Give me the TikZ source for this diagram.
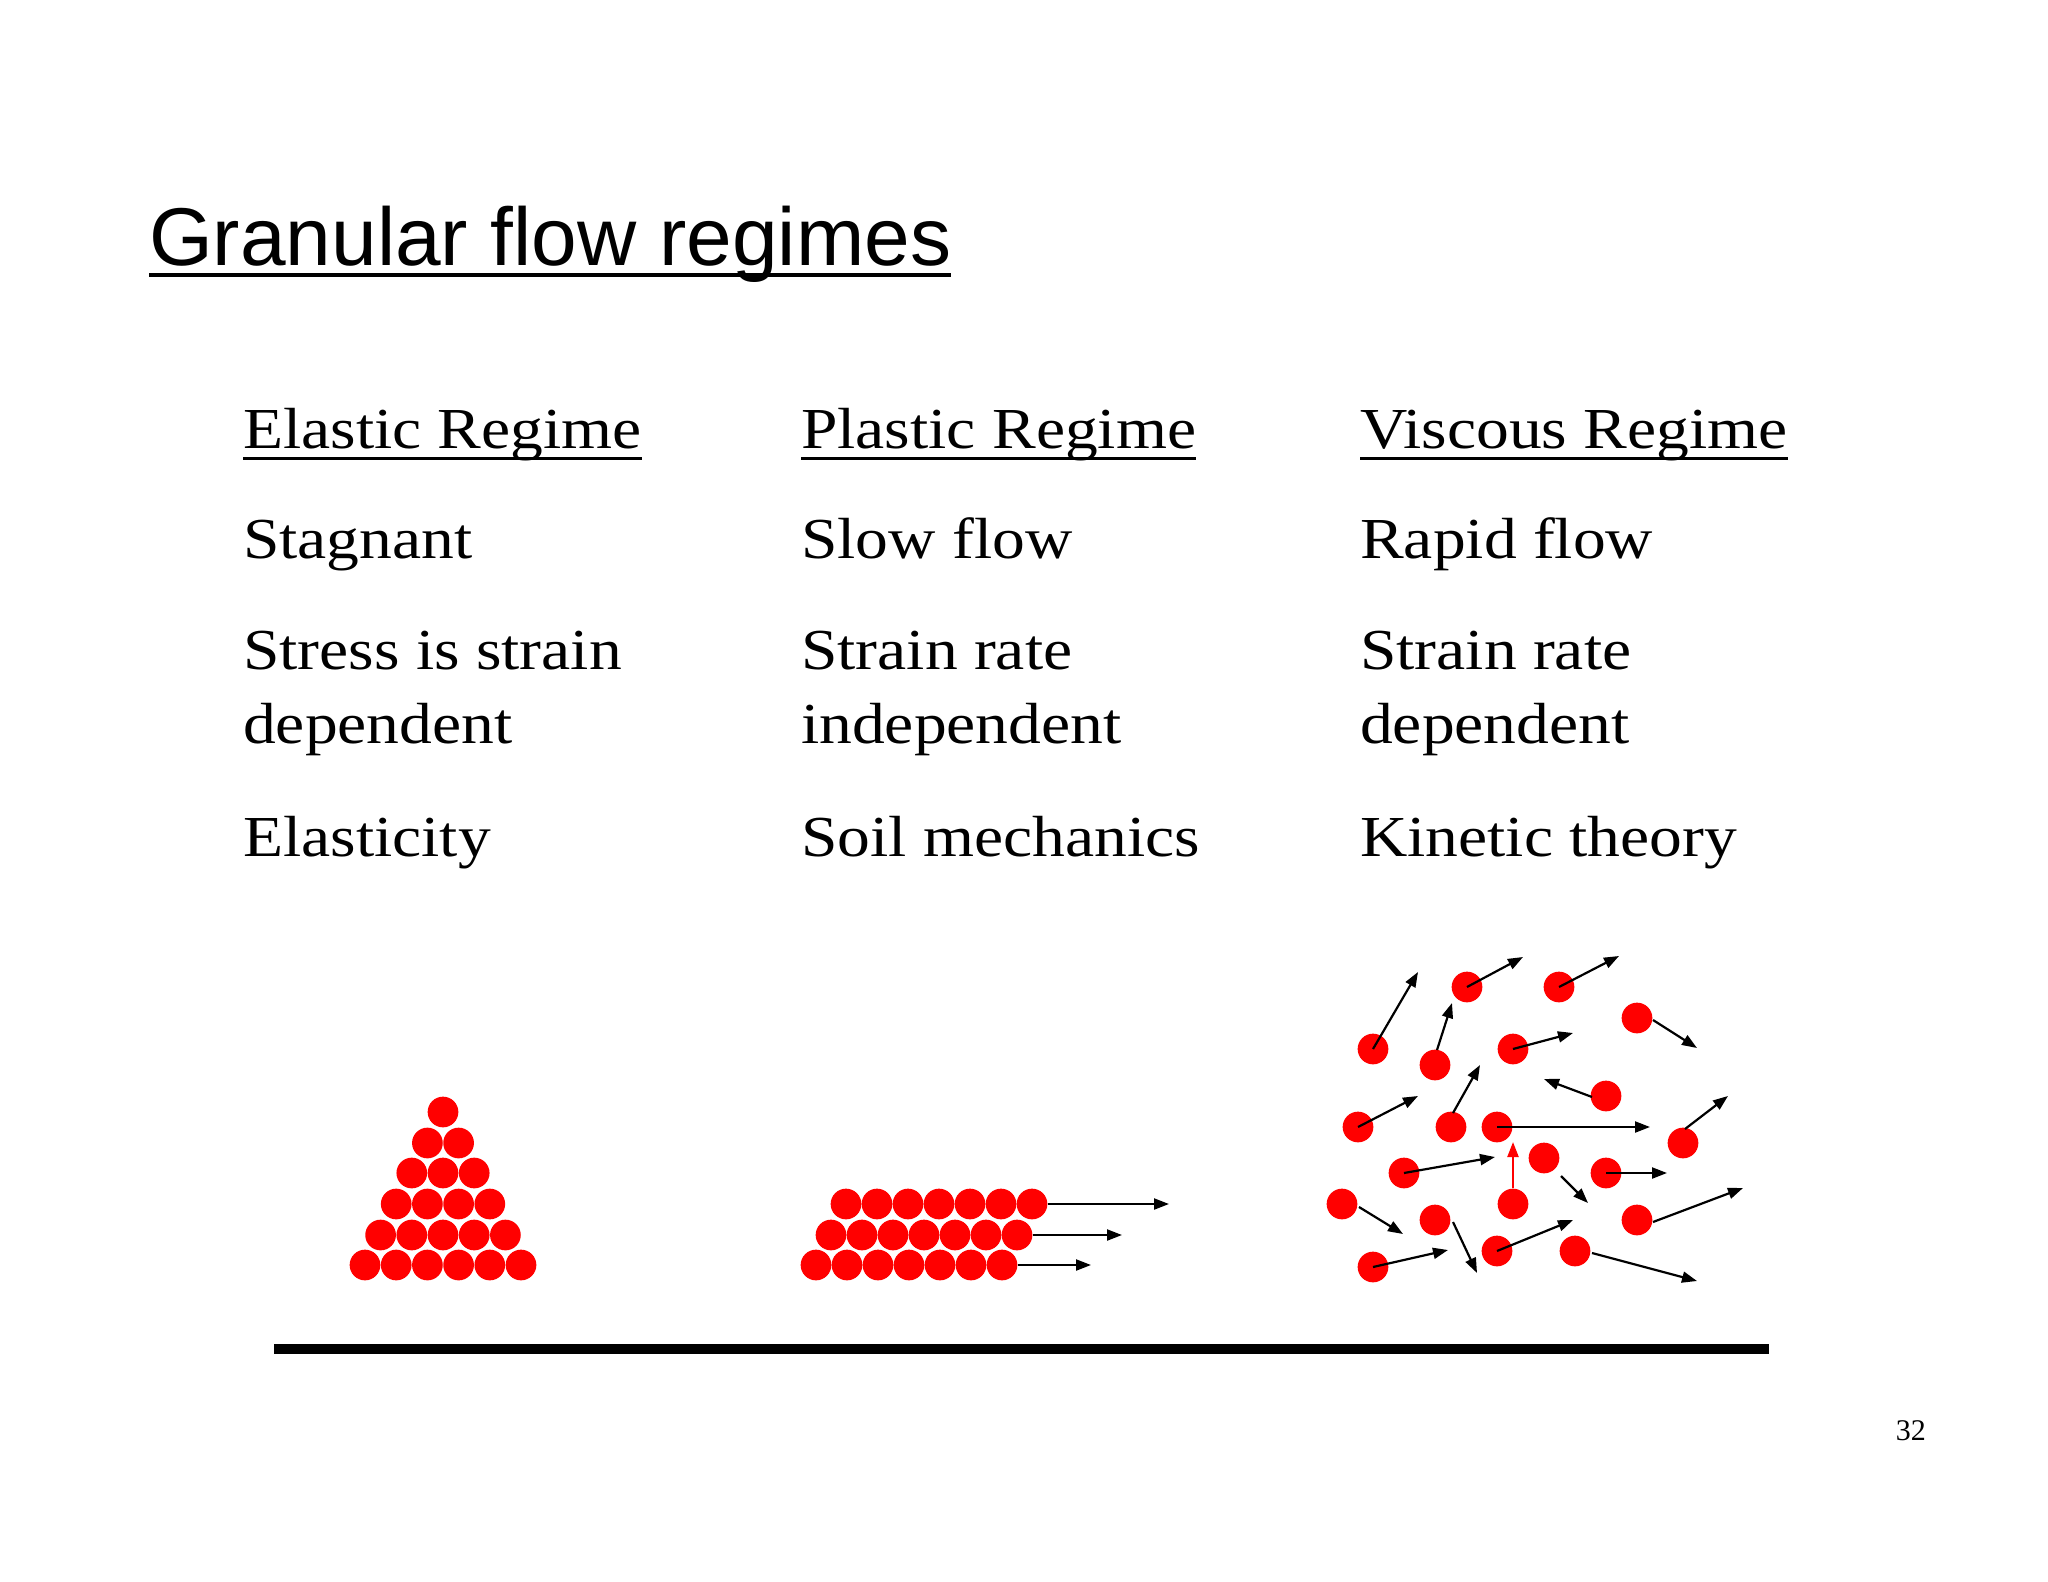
\documentclass[tikz,border=0pt]{standalone}
\usepackage{fontspec}
\setmainfont{Liberation Serif}[FakeStretch=1.13]
\newfontfamily\sansf{Liberation Sans}
\newfontfamily\plainserif{Liberation Serif}
\usetikzlibrary{arrows.meta}
\begin{document}
\begin{tikzpicture}[x=1pt,y=-1pt,
  ball/.style={circle,fill=red,inner sep=0pt,minimum size=30.7pt},
  mv/.style={line width=2.2pt,-{Triangle[length=15pt,width=11pt]}},
  txt/.style={anchor=base west,inner sep=0pt,font=\fontsize{58}{58}\selectfont},
  ul/.style={line width=3pt}]
\useasboundingbox (0,0) rectangle (2048,1582);
\node[anchor=base west,inner sep=0pt,font=\sansf\fontsize{82}{82}\selectfont] (title) at (149,265) {Granular flow regimes};
\draw[line width=4pt] ([yshift=-10pt]title.base west) -- ([yshift=-10pt]title.base east);
% headings
\node[txt] (h1) at (243,448) {Elastic Regime};
\node[txt] (h2) at (801,448) {Plastic Regime};
\node[txt] (h3) at (1360,448) {Viscous Regime};
\foreach \h in {h1,h2,h3} \draw[ul] ([yshift=-10pt]\h.base west) -- ([yshift=-10pt]\h.base east);
\node[txt] (a1) at (243,558) {Stagnant};
\node[txt] (a2) at (801,558) {Slow flow};
\node[txt] (a3) at (1360,558) {Rapid flow};
\node[txt] (b1) at (243,669) {Stress is strain};
\node[txt] (b2) at (801,669) {Strain rate};
\node[txt] (b3) at (1360,669) {Strain rate};
\node[txt] (c1) at (243,743) {dependent};
\node[txt] (c2) at (801,743) {independent};
\node[txt] (c3) at (1360,743) {dependent};
\node[txt] (d1) at (243,856) {Elasticity};
\node[txt] (d2) at (801,856) {Soil mechanics};
\node[txt] (d3) at (1360,856) {Kinetic theory};
% pile
\foreach \r/\y in {1/1112,2/1143,3/1173,4/1204,5/1235,6/1265}{
  \foreach \i in {1,...,\r}{
    \node[ball] (p\r-\i) at ({443+31.2*(\i-(\r+1)/2)},\y) {};}}
% plastic
\foreach \i in {1,...,7}{
  \node[ball] (t\i) at ({846+31*(\i-1)},1204) {};
  \node[ball] (m\i) at ({831+31*(\i-1)},1235) {};
  \node[ball] (b\i) at ({816+31*(\i-1)},1265) {};}
\coordinate (te) at (1169,1204);
\coordinate (me) at (1122,1235);
\coordinate (be) at (1091,1265);
\draw[mv] (t7.east) -- (te);
\draw[mv] (m7.east) -- (me);
\draw[mv] (b7.east) -- (be);
% viscous
\foreach \n/\x/\y/\ex/\ey in {
 1/1373/1049/1418/972, 2/1467/987/1523/957, 3/1559/987/1619/956,
 5/1513/1049/1573/1033, 8/1358/1127/1418/1096,
 10/1497/1127/1650/1127, 12/1404/1173/1495/1157, 14/1606/1173/1667/1173,
 19/1497/1251/1573/1220, 21/1373/1267/1448/1250}{
  \node[ball] (v\n) at (\x,\y) {};
  \coordinate (e\n) at (\ex,\ey);
  \draw[mv] (v\n.center) -- (e\n);}
\foreach \n/\x/\y/\sx/\sy/\ex/\ey in {
 4/1435/1065/1437/1050/1452/1003, 6/1637/1018/1653/1020/1697/1048,
 7/1606/1096/1592/1097/1544/1079, 9/1451/1127/1453/1113/1480/1065,
 11/1683/1143/1685/1129/1728/1096, 13/1544/1158/1561/1176/1588/1203,
 16/1342/1204/1359/1207/1403/1234, 17/1435/1220/1453/1222/1477/1273,
 18/1637/1220/1653/1222/1743/1188, 20/1575/1251/1592/1253/1697/1281}{
  \node[ball] (v\n) at (\x,\y) {};
  \coordinate (s\n) at (\sx,\sy);
  \coordinate (e\n) at (\ex,\ey);
  \draw[mv] (s\n) -- (e\n);}
\node[ball] (v15) at (1513,1204) {};
\coordinate (e15) at (1513,1142);
\draw[mv,red] (v15.north) -- (e15);
% floor
\coordinate (f1) at (274,1349);
\coordinate (f2) at (1769,1349);
\draw[line width=10pt] (f1) -- (f2);
\node[anchor=base east,inner sep=0pt,font=\plainserif\fontsize{30}{30}\selectfont] (pg) at (1926,1440) {32};
\end{tikzpicture}
\end{document}
